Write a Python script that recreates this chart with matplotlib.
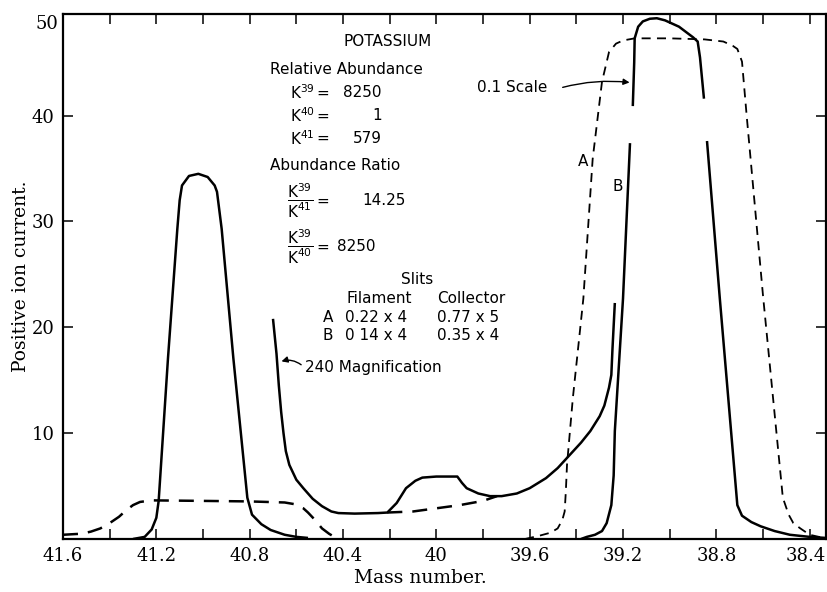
import matplotlib
matplotlib.use('Agg')
import matplotlib.pyplot as plt
from matplotlib.ticker import MultipleLocator, FixedLocator
from matplotlib.transforms import ScaledTranslation

plt.rcParams['mathtext.fontset'] = 'dejavusans'

# ---- data ----
# K41 peak, solid
k41_x = [41.30, 41.25, 41.22, 41.20, 41.19, 41.15, 41.11, 41.10, 41.09, 41.06, 41.02,
         40.98, 40.95, 40.94, 40.92, 40.87, 40.81, 40.79, 40.75, 40.71, 40.65, 40.60, 40.55]
k41_y = [0.0, 0.2, 0.9, 2.0, 3.6, 17.1, 29.3, 32.0, 33.4, 34.3, 34.5,
         34.2, 33.4, 32.8, 29.3, 17.1, 3.9, 2.3, 1.4, 0.85, 0.4, 0.2, 0.1]

# 0.1 scale dashed, K41 region (A)
dashL_x = [41.60, 41.52, 41.48, 41.44, 41.40, 41.36, 41.33, 41.30, 41.27, 41.22, 41.00,
           40.80, 40.65, 40.61, 40.57, 40.55, 40.52, 40.49, 40.46, 40.43]
dashL_y = [0.4, 0.5, 0.7, 1.0, 1.5, 2.1, 2.7, 3.2, 3.5, 3.65, 3.6,
           3.55, 3.45, 3.3, 2.9, 2.5, 1.8, 1.0, 0.5, 0.1]

# 240x magnification, solid
mag_x = [40.70, 40.685, 40.675, 40.665, 40.655, 40.645, 40.63, 40.60, 40.57, 40.53, 40.49,
         40.45, 40.42, 40.35, 40.25, 40.21, 40.17, 40.13, 40.09, 40.06, 40.00, 39.91,
         39.89, 39.87, 39.82, 39.77, 39.72, 39.655, 39.60, 39.53, 39.48, 39.43, 39.38,
         39.34, 39.30, 39.28, 39.26, 39.25, 39.245, 39.235]
mag_y = [20.8, 17.5, 14.5, 12.0, 10.0, 8.3, 7.0, 5.6, 4.8, 3.8, 3.1,
         2.6, 2.45, 2.4, 2.45, 2.5, 3.4, 4.8, 5.5, 5.8, 5.9, 5.9,
         5.3, 4.8, 4.3, 4.05, 4.05, 4.3, 4.8, 5.75, 6.7, 7.9, 9.1,
         10.2, 11.6, 12.6, 14.3, 15.5, 18.0, 22.3]

# dashed baseline under K40 (A, magnified)
dashM_x = [40.21, 40.10, 40.00, 39.90, 39.80, 39.76, 39.74]
dashM_y = [2.5, 2.6, 2.9, 3.2, 3.6, 3.9, 4.05]

# K39 peak, slit A, 0.1 scale, dashed
dashA_x = [39.62, 39.56, 39.51, 39.48, 39.46, 39.45, 39.445, 39.44, 39.415, 39.37, 39.33,
           39.29, 39.26, 39.23, 39.20, 39.15, 39.00, 38.85, 38.77, 38.73, 38.71, 38.69,
           38.67, 38.60, 38.515, 38.49, 38.47, 38.44, 38.40, 38.36, 38.33]
dashA_y = [0.0, 0.3, 0.6, 1.0, 1.8, 2.6, 4.5, 7.0, 13.3, 22.7, 35.9,
           43.2, 46.0, 46.8, 47.1, 47.3, 47.3, 47.2, 47.0, 46.6, 46.3, 45.1,
           40.0, 23.0, 3.9, 2.3, 1.5, 1.0, 0.4, 0.2, 0.1]

# K39 peak, slit B, solid (lower left / lower right flanks)
bL_x = [39.38, 39.355, 39.32, 39.29, 39.27, 39.25, 39.24, 39.235, 39.20, 39.17]
bL_y = [0.0, 0.2, 0.4, 0.75, 1.5, 3.2, 6.0, 10.2, 22.7, 37.4]
bR_x = [38.84, 38.785, 38.71, 38.69, 38.65, 38.61, 38.55, 38.485, 38.40, 38.33]
bR_y = [37.6, 22.7, 3.2, 2.2, 1.6, 1.2, 0.75, 0.4, 0.2, 0.1]

# K39 peak, slit B, top part (0.1 scale)
bT_x = [39.158, 39.152, 39.15, 39.135, 39.115, 39.085, 39.055, 39.02, 39.00, 38.96,
        38.93, 38.90, 38.88, 38.87, 38.853]
bT_y = [40.9, 45.0, 47.3, 48.4, 48.9, 49.15, 49.2, 49.0, 48.8, 48.4,
        47.9, 47.4, 47.0, 45.5, 41.6]

x_major = [41.6, 41.2, 40.8, 40.4, 40.0, 39.6, 39.2, 38.8, 38.4]
x_labels = ['41.6', '41.2', '40.8', '40.4', '40', '39.6', '39.2', '38.8', '38.4']
y_major = [10, 20, 30, 40]
y_labels = ['10', '20', '30', '40']

# ---- figure ----
fig = plt.figure(figsize=(8.28, 5.92), dpi=100)
ax = fig.add_axes([63/828, 1-539/592, 763/828, 525/592])
ax.set_xlim(41.6, 38.33)
ax.set_ylim(0, 49.6)

solid = dict(color='black', lw=1.8, solid_capstyle='butt')
ax.plot(k41_x, k41_y, **solid)
ax.plot(mag_x, mag_y, **solid)
ax.plot(bL_x, bL_y, **solid)
ax.plot(bR_x, bR_y, **solid)
ax.plot(bT_x, bT_y, **solid)
ax.plot(dashL_x, dashL_y, color='black', lw=1.8, dashes=(6, 4))
ax.plot(dashM_x, dashM_y, color='black', lw=1.8, dashes=(6, 4))
ax.plot(dashA_x, dashA_y, color='black', lw=1.3, dashes=(5, 3.5))

# ticks
serif = 'DejaVu Serif'
tfs = 13
ax.xaxis.set_major_locator(FixedLocator(x_major))
ax.set_xticklabels(x_labels, fontsize=tfs, family=serif)
ax.xaxis.set_minor_locator(MultipleLocator(0.2))
ax.set_yticks(y_major)
ax.set_yticklabels(y_labels, fontsize=tfs, family=serif)
ax.tick_params(axis='both', which='both', direction='in', top=True, right=True,
               length=7, width=1.1, pad=6)
last = ax.get_xticklabels()[-1]
last.set_transform(last.get_transform() + ScaledTranslation(-4/100, 0, fig.dpi_scale_trans))
ax.text(-0.006, 48.7, '50', transform=ax.get_yaxis_transform(), ha='right', va='center',
        fontsize=tfs, family=serif)
for s in ax.spines.values():
    s.set_linewidth(1.6)

fig.text(420/828, 1-578/592, 'Mass number.', ha='center', va='center', fontsize=13.5, family=serif)
fig.text(21/828, 1-276/592, 'Positive ion current.', ha='center', va='center', rotation=90,
         fontsize=13.5, family=serif)

# annotations
sans = 'DejaVu Sans'
fs = 11
t = dict(fontsize=fs, family=sans, va='center')
ax.text(40.207, 46.97, 'POTASSIUM', ha='center', **t)
ax.text(40.713, 44.33, 'Relative Abundance', ha='left', **t)
rows = [(42.15, 'K$^{39}$', '8250'), (39.98, 'K$^{40}$', '1'), (37.81, 'K$^{41}$', '579')]
for yy, lab, val in rows:
    ax.text(40.627, yy, lab, ha='left', **t)
    ax.text(40.486, yy, '=', ha='center', **t)
    ax.text(40.233, yy, val, ha='right', **t)
ax.text(40.713, 35.25, 'Abundance Ratio', ha='left', **t)
ax.text(40.584, 31.95, r'$\dfrac{\mathrm{K}^{39}}{\mathrm{K}^{41}}$', ha='center', **t)
ax.text(40.486, 31.95, '=', ha='center', **t)
ax.text(40.318, 31.95, '14.25', ha='left', **t)
ax.text(40.584, 27.6, r'$\dfrac{\mathrm{K}^{39}}{\mathrm{K}^{40}}$', ha='center', **t)
ax.text(40.486, 27.6, '=', ha='center', **t)
ax.text(40.426, 27.6, '8250', ha='left', **t)
ax.text(40.083, 24.48, 'Slits', ha='center', **t)
ax.text(40.383, 22.68, 'Filament', ha='left', **t)
ax.text(39.997, 22.68, 'Collector', ha='left', **t)
ax.text(40.464, 20.89, 'A', ha='center', **t)
ax.text(40.391, 20.89, '0.22 x 4', ha='left', **t)
ax.text(39.997, 20.89, '0.77 x 5', ha='left', **t)
ax.text(40.464, 19.19, 'B', ha='center', **t)
ax.text(40.391, 19.19, '0 14 x 4', ha='left', **t)
ax.text(39.997, 19.19, '0.35 x 4', ha='left', **t)
ax.text(40.563, 16.16, '240 Magnification', ha='left', **t)
ax.annotate('', xy=(40.675, 16.7), xytext=(40.57, 16.3),
            arrowprops=dict(arrowstyle='-|>', color='black', lw=1.0,
                            connectionstyle='arc3,rad=0.3', mutation_scale=9))
ax.text(39.825, 42.63, '0.1 Scale', ha='left', **t)
ax.annotate('', xy=(39.160, 43.1), xytext=(39.47, 42.6),
            arrowprops=dict(arrowstyle='-|>', color='black', lw=1.0,
                            connectionstyle='arc3,rad=-0.1', mutation_scale=9))
ax.text(39.371, 35.63, 'A', ha='center', **t)
ax.text(39.221, 33.27, 'B', ha='center', **t)

fig.savefig('out.png', dpi=100)
